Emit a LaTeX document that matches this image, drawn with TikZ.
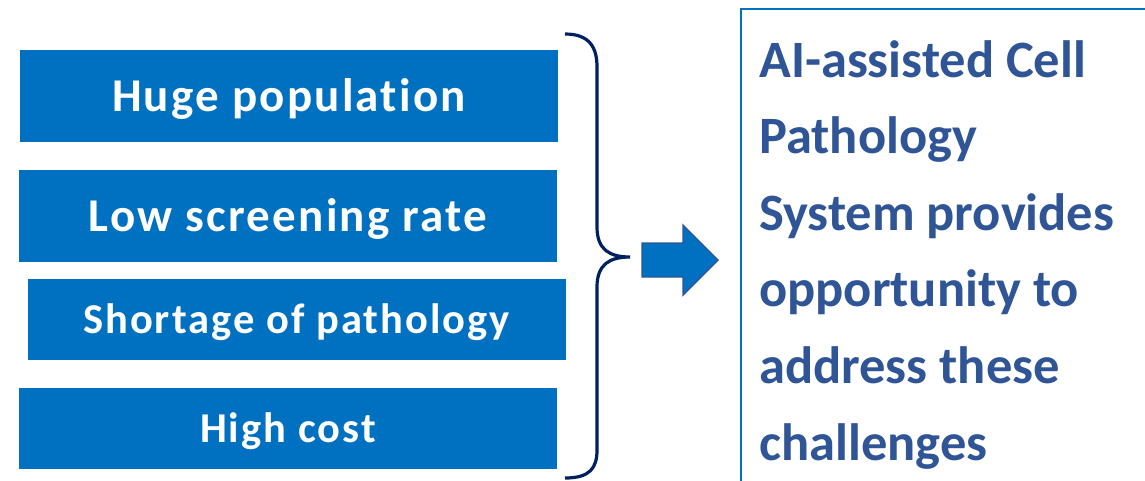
\documentclass[tikz,border=0pt]{standalone}
\usepackage{fontspec}
\setmainfont{Carlito}
\newfontfamily\spacedfont[LetterSpace=4.8, RawFeature=-liga]{Carlito}
\usepackage{tikz}
\usetikzlibrary{calc}
\definecolor{boxblue}{HTML}{0070C0}
\definecolor{bracenavy}{HTML}{002060}
\definecolor{textblue}{HTML}{2F5597}
\tikzset{
    challenge-box/.style={
        rectangle, fill=boxblue, text=white, inner sep=0pt,
        minimum width=538pt, text depth=0pt
    },
    big-label/.style={
        font=\spacedfont\bfseries\fontsize{47}{50}\selectfont, text height=30pt
    },
    small-label/.style={
        font=\spacedfont\bfseries\fontsize{42.5}{45}\selectfont, text height=27pt
    },
    brace-line/.style={
        draw=bracenavy, line width=3.2pt
    },
    block-arrow/.style={
        fill=boxblue, draw=textblue, line width=1.4pt, line join=miter
    },
}

\begin{document}
\begin{tikzpicture}[x=1pt, y=-1pt]

        % BOUNDING BOX
        \useasboundingbox (0,0) rectangle (1145,480);

        % CHALLENGES
        \node[challenge-box, big-label,   minimum height=92pt] (HUGE)  at (289,96)  {Huge population};
        \node[challenge-box, big-label,   minimum height=92pt] (LOW)   at (288,216) {Low screening rate};
        \node[challenge-box, small-label, minimum height=81pt] (SHORT) at (296.5,319.5) {Shortage of pathology};
        \node[challenge-box, small-label, minimum height=81pt] (HIGH)  at (288,428.5) {High cost};

        % BRACE POINTS
        \coordinate (BRTOP) at (565,34);
        \coordinate (BRTIP) at (630,257);
        \coordinate (BRBOT) at (565,478);
        \draw[brace-line] (BRTOP) .. controls (590,34) and (597,48) .. (597,67)
            -- (597,227) .. controls (597,250) and (610,257) .. (BRTIP)
            .. controls (610,257) and (597,264) .. (597,287)
            -- (597,450) .. controls (597,468) and (590,478) .. (BRBOT);

        % ARROW
        \filldraw[block-arrow] (642,243) -- (683,243) -- (683,225) -- (718,260)
            -- (683,295) -- (683,277) -- (642,277) -- cycle;

        % SOLUTION BOX
        \node[draw=boxblue, line width=2.2pt, anchor=north west,
              minimum width=450pt, minimum height=500pt] (AI) at (740,8) {};
        \node[anchor=north west, inner sep=0pt, align=left, text=textblue,
              font=\bfseries\fontsize{52.5}{76.6}\selectfont] (AITEXT) at (759,40)
              {AI-assisted Cell\\Pathology\\System provides\\opportunity to\\address these\\challenges};

    \end{tikzpicture}
\end{document}
